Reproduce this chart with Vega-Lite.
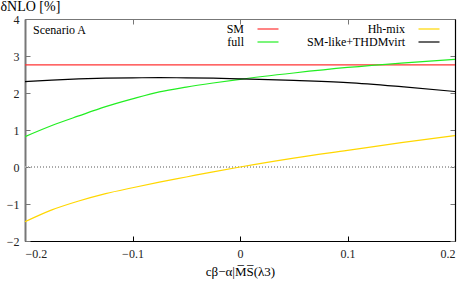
{
  "$schema": "https://vega.github.io/schema/vega-lite/v6.json",
  "autosize": "none",
  "padding": {"left": 25, "top": 19, "right": 7, "bottom": 44},
  "width": 430,
  "height": 222,
  "background": "white",
  "data": {"values": [
    {"x": -0.2, "y": 2.76, "s": "SM"},
    {"x": 0.2, "y": 2.76, "s": "SM"},
    {"x": -0.2, "y": 0.82, "s": "full"},
    {"x": -0.175, "y": 1.12, "s": "full"},
    {"x": -0.15, "y": 1.38, "s": "full"},
    {"x": -0.125, "y": 1.63, "s": "full"},
    {"x": -0.1, "y": 1.84, "s": "full"},
    {"x": -0.075, "y": 2.03, "s": "full"},
    {"x": -0.05, "y": 2.16, "s": "full"},
    {"x": -0.025, "y": 2.27, "s": "full"},
    {"x": 0, "y": 2.37, "s": "full"},
    {"x": 0.05, "y": 2.54, "s": "full"},
    {"x": 0.1, "y": 2.69, "s": "full"},
    {"x": 0.15, "y": 2.81, "s": "full"},
    {"x": 0.2, "y": 2.91, "s": "full"},
    {"x": -0.2, "y": -1.48, "s": "Hh-mix"},
    {"x": -0.175, "y": -1.16, "s": "Hh-mix"},
    {"x": -0.15, "y": -0.92, "s": "Hh-mix"},
    {"x": -0.125, "y": -0.72, "s": "Hh-mix"},
    {"x": -0.1, "y": -0.56, "s": "Hh-mix"},
    {"x": -0.075, "y": -0.41, "s": "Hh-mix"},
    {"x": -0.05, "y": -0.27, "s": "Hh-mix"},
    {"x": -0.025, "y": -0.13, "s": "Hh-mix"},
    {"x": 0, "y": 0, "s": "Hh-mix"},
    {"x": 0.05, "y": 0.24, "s": "Hh-mix"},
    {"x": 0.1, "y": 0.45, "s": "Hh-mix"},
    {"x": 0.15, "y": 0.66, "s": "Hh-mix"},
    {"x": 0.2, "y": 0.85, "s": "Hh-mix"},
    {"x": -0.2, "y": 2.31, "s": "SM-like+THDMvirt"},
    {"x": -0.175, "y": 2.35, "s": "SM-like+THDMvirt"},
    {"x": -0.15, "y": 2.38, "s": "SM-like+THDMvirt"},
    {"x": -0.125, "y": 2.4, "s": "SM-like+THDMvirt"},
    {"x": -0.1, "y": 2.41, "s": "SM-like+THDMvirt"},
    {"x": -0.075, "y": 2.415, "s": "SM-like+THDMvirt"},
    {"x": -0.05, "y": 2.41, "s": "SM-like+THDMvirt"},
    {"x": -0.025, "y": 2.4, "s": "SM-like+THDMvirt"},
    {"x": 0, "y": 2.38, "s": "SM-like+THDMvirt"},
    {"x": 0.05, "y": 2.34, "s": "SM-like+THDMvirt"},
    {"x": 0.1, "y": 2.28, "s": "SM-like+THDMvirt"},
    {"x": 0.15, "y": 2.17, "s": "SM-like+THDMvirt"},
    {"x": 0.2, "y": 2.04, "s": "SM-like+THDMvirt"}
  ]},
  "resolve": {"axis": {"x": "independent", "y": "independent"}},
  "layer": [
    {
      "mark": {"type": "rule", "strokeDash": [1, 2], "color": "#aaa", "strokeWidth": 1},
      "encoding": {"y": {"datum": 0, "type": "quantitative", "scale": {"domain": [-2, 4], "nice": false}, "axis": null}}
    },
    {
      "data": {"values": [{"label": "Scenario A"}]},
      "mark": {"type": "text", "align": "left", "baseline": "middle", "font": "Liberation Serif, serif", "fontSize": 12, "color": "#000", "dx": 8},
      "encoding": {
        "x": {"datum": -0.2, "type": "quantitative", "scale": {"domain": [-0.2, 0.2], "nice": false}, "axis": null},
        "y": {"datum": 3.7, "type": "quantitative", "scale": {"domain": [-2, 4], "nice": false}, "axis": null},
        "text": {"field": "label"}
      }
    },
    {
      "mark": {"type": "line", "strokeWidth": 1.2, "interpolate": "monotone", "clip": true},
      "encoding": {
        "x": {"field": "x", "type": "quantitative",
          "scale": {"domain": [-0.2, 0.2], "nice": false, "zero": false},
          "axis": {"orient": "bottom", "values": [-0.2, -0.1, 0, 0.1, 0.2], "format": "~g", "grid": false,
            "tickSize": -5, "labelPadding": 12, "domainColor": "#000", "tickColor": "#000",
            "labelFont": "Liberation Serif, serif", "labelFontSize": 12, "labelColor": "#222",
            "titleFont": "Liberation Serif, serif", "titleFontSize": 13, "titleFontWeight": "normal", "titleColor": "#000",
            "title": "cβ−α|M̅S̅(λ3)", "titlePadding": 6}},
        "y": {"field": "y", "type": "quantitative",
          "scale": {"domain": [-2, 4], "nice": false, "zero": false},
          "axis": {"orient": "left", "values": [-2, -1, 0, 1, 2, 3, 4], "grid": false,
            "tickSize": -5, "labelPadding": 11, "domainColor": "#777", "domainWidth": 2, "tickColor": "#777",
            "labelFont": "Liberation Serif, serif", "labelFontSize": 12, "labelColor": "#222",
            "titleFont": "Liberation Serif, serif", "titleFontWeight": "normal", "titleColor": "#000",
            "title": "δNLO [%]", "titleAngle": 0, "titleX": -25, "titleY": -6, "titleAlign": "left", "titleBaseline": "bottom", "titleFontSize": 14}},
        "color": {"field": "s", "type": "nominal",
          "scale": {"domain": ["SM", "full", "Hh-mix", "SM-like+THDMvirt"], "range": ["#ff3333", "#22ee22", "#ffd700", "#000000"]},
          "legend": {"title": null, "orient": "none", "legendX": 237, "legendY": 4, "columns": 2, "symbolType": "M-3,0H3", "symbolSize": 49, "symbolStrokeWidth": 1.2,
            "labelAlign": "right", "labelOffset": -30, "columnPadding": 25, "rowPadding": 1, "padding": 0,
            "labelFont": "Liberation Serif, serif", "labelFontSize": 12, "labelColor": "#000"}}
      }
    },
    {
      "mark": {"type": "line", "opacity": 0},
      "encoding": {
        "x": {"field": "x", "type": "quantitative", "scale": {"domain": [-0.2, 0.2], "nice": false, "zero": false},
          "axis": {"orient": "top", "values": [-0.2, -0.1, 0, 0.1, 0.2], "labels": false, "title": null, "grid": false, "tickSize": -5, "domainColor": "#777", "tickColor": "#777"}},
        "y": {"field": "y", "type": "quantitative", "scale": {"domain": [-2, 4], "nice": false, "zero": false},
          "axis": {"orient": "right", "values": [-2, -1, 0, 1, 2, 3, 4], "labels": false, "title": null, "grid": false, "tickSize": -5, "domainColor": "#000", "tickColor": "#777"}},
        "detail": {"field": "s"}
      }
    }
  ],
  "config": {
    "view": {"stroke": null},
    "axis": {"domainWidth": 1.2}
  }
}
